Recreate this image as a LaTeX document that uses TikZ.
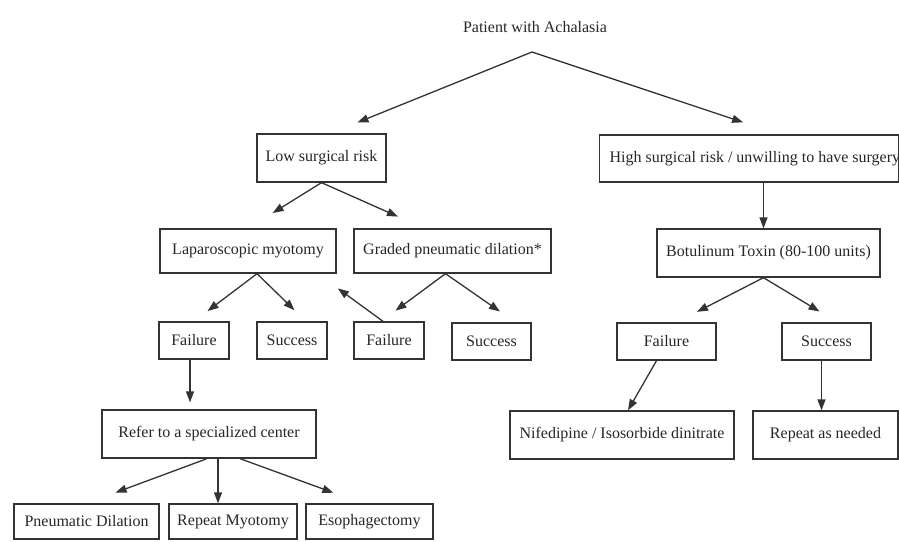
\documentclass[tikz,border=0pt]{standalone}
\usepackage{fontspec}
\setmainfont{Liberation Serif}
\usetikzlibrary{arrows.meta}
\begin{document}
\begin{tikzpicture}[>={Triangle[length=11pt,width=8pt]},x=1pt,y=-1pt]
        \tikzstyle{box}=[rectangle,draw=black!80,line width=1.3pt,text=black!85,inner sep=0pt,font=\fontsize{16}{19}\selectfont]
        \tikzstyle{edge}=[->,draw=black!80,line width=1.3pt]
        \clip (0,0) rectangle (899,541);
       \begin{scope}
         \node [font=\fontsize{16}{19}\selectfont,text=black!85] (title) at (535,27) {Patient with Achalasia};
         \coordinate (split) at (532,52);

         \node [box,minimum width=129,minimum height=48] (low) at (321.5,158) {Low surgical risk};
         \node [box,anchor=west,minimum height=47,inner xsep=10pt] (high) at (599,158.5) {\makebox[279pt][l]{High surgical risk / unwilling to have surgery}};

         \node [box,minimum width=176,minimum height=44] (lap) at (248,251) {Laparoscopic myotomy};
         \node [box,minimum width=197,minimum height=44] (graded) at (452.5,251) {Graded pneumatic dilation*};
         \node [box,minimum width=223,minimum height=48] (botox) at (768.5,253) {Botulinum Toxin (80-100 units)};

         \node [box,minimum width=70,minimum height=37] (fail1) at (194,340.5) {Failure};
         \node [box,minimum width=70,minimum height=37] (succ1) at (292,340.5) {Success};
         \node [box,minimum width=70,minimum height=37] (fail2) at (389,340.5) {Failure};
         \node [box,minimum width=79,minimum height=37] (succ2) at (491.5,341.5) {Success};
         \node [box,minimum width=99,minimum height=37] (fail3) at (666.5,341.5) {Failure};
         \node [box,minimum width=89,minimum height=37] (succ3) at (826.5,341.5) {Success};

         \node [box,minimum width=214,minimum height=48] (refer) at (209,434) {Refer to a specialized center};
         \node [box,minimum width=224,minimum height=48] (nife) at (622,435) {Nifedipine / Isosorbide dinitrate};
         \node [box,minimum width=145,minimum height=48] (again) at (825.5,435) {\raisebox{4pt}{Repeat as needed}};

         \node [box,minimum width=145,minimum height=35] (pd) at (86.5,521.5) {Pneumatic Dilation};
         \node [box,minimum width=128,minimum height=35] (rm) at (233,521.5) {Repeat Myotomy};
         \node [box,minimum width=127,minimum height=35] (eso) at (369.5,521.5) {Esophagectomy};

         \path (split) edge [edge,shorten >=29pt] ([xshift=9pt]low.north);
         \path (split) edge [edge,shorten >=38pt] ([xshift=30pt]high.north);

         \path (low.south) edge [edge,shorten >=29pt] (lap.north);
         \path (low.south) edge [edge,shorten >=29pt] ([xshift=-28pt]graded.north);
         \path ([xshift=-5pt]botox.north |- high.south) edge [edge] ([xshift=-5pt]botox.north);

         \path ([xshift=9pt]lap.south) edge [edge,shorten >=17pt] (fail1.north);
         \path ([xshift=9pt]lap.south) edge [edge,shorten >=16pt] ([xshift=14pt]succ1.north);
         \path ([xshift=-7pt]graded.south) edge [edge,shorten >=18pt] ([xshift=-8pt]fail2.north);
         \path ([xshift=-7pt]graded.south) edge [edge,shorten >=19pt] ([xshift=24pt]succ2.north);
         \path ([xshift=-6pt]fail2.north) edge [edge,shorten >=25pt] ([xshift=-19pt]lap.south east);
         \path ([xshift=-5pt]botox.south) edge [edge,shorten >=23pt] ([xshift=10pt]fail3.north);
         \path ([xshift=-5pt]botox.south) edge [edge,shorten >=21pt] ([xshift=11pt]succ3.north);

         \path ([xshift=-4pt]fail1.south) edge [edge,shorten >=7pt] ([xshift=-4pt]fail1.south |- refer.north);
         \path ([xshift=-10pt]fail3.south) edge [edge] ([xshift=6pt]nife.north);
         \path ([xshift=-5pt]succ3.south) edge [edge] ([xshift=-5pt]succ3.south |- again.north);

         \path ([xshift=-2pt]refer.south) edge [edge,shorten >=31pt] (pd.north);
         \path ([xshift=9pt]refer.south) edge [edge] ([xshift=9pt]refer.south |- rm.north);
         \path ([xshift=31pt]refer.south) edge [edge,shorten >=31pt] ([xshift=-7pt]eso.north);
        \end{scope}
      \end{tikzpicture}
\end{document}
